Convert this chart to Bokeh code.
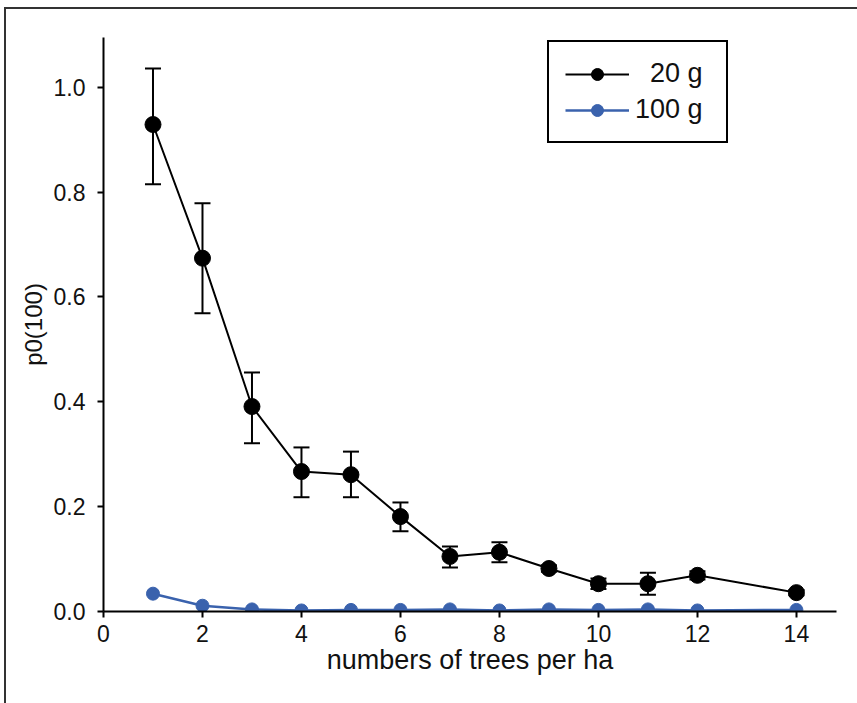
from bokeh.plotting import figure
from bokeh.models import Range1d, FixedTicker, Whisker, ColumnDataSource, Legend, LegendItem
from bokeh.embed import file_html
from bokeh.resources import INLINE

trees = [1, 2, 3, 4, 5, 6, 7, 8, 9, 10, 11, 12, 14]
p20 = [0.929, 0.674, 0.391, 0.267, 0.261, 0.181, 0.105, 0.113, 0.082, 0.053, 0.053, 0.069, 0.036]
p20_upper = [1.036, 0.779, 0.456, 0.313, 0.305, 0.208, 0.124, 0.132, 0.088, 0.063, 0.074, 0.077, 0.041]
p20_lower = [0.815, 0.569, 0.321, 0.218, 0.218, 0.153, 0.084, 0.094, 0.076, 0.043, 0.032, 0.061, 0.031]
p100 = [0.034, 0.011, 0.004, 0.002, 0.003, 0.003, 0.004, 0.002, 0.004, 0.003, 0.004, 0.002, 0.003]
x_ticks = [0, 2, 4, 6, 8, 10, 12, 14]
y_ticks = [0.0, 0.2, 0.4, 0.6, 0.8, 1.0]
labels = ["\u00a0\u00a020 g", "100 g"]

BLUE = "#3a62ad"
FONT = "Liberation Sans"

p = figure(frame_width=733, frame_height=574,
           min_border_left=97, min_border_top=28, min_border_right=21, min_border_bottom=92,
           x_range=Range1d(0, 14.81), y_range=Range1d(0, 1.095),
           output_backend="svg", toolbar_location=None)
p.styles = {"margin-left": "4px", "margin-top": "7px",
            "border-left": "2px solid #333", "border-top": "2px solid #333"}

p.grid.visible = False
p.outline_line_color = None
p.background_fill_color = "white"
p.border_fill_color = "white"

for ax in (p.xaxis[0], p.yaxis[0]):
    ax.axis_line_width = 2
    ax.axis_line_color = "black"
    ax.major_tick_line_width = 2
    ax.major_tick_line_color = "black"
    ax.major_tick_out = 6
    ax.major_tick_in = 0
    ax.minor_tick_line_color = None
    ax.major_label_text_font = FONT
    ax.major_label_text_font_size = "23px"
    ax.major_label_text_color = "#111"
    ax.axis_label_text_font = FONT
    ax.axis_label_text_font_style = "normal"
    ax.axis_label_text_color = "#111"

p.xaxis[0].axis_label_text_font_size = "27px"
p.yaxis[0].axis_label_text_font_size = "24px"
p.xaxis[0].ticker = FixedTicker(ticks=x_ticks)
p.yaxis[0].ticker = FixedTicker(ticks=y_ticks)
p.yaxis[0].major_label_overrides = {t: f"{t:.1f}" for t in y_ticks}
p.xaxis[0].axis_label = "numbers of trees per ha"
p.yaxis[0].axis_label = "p0(100)"
p.xaxis[0].major_label_standoff = 7
p.xaxis[0].axis_label_standoff = 0
p.yaxis[0].major_label_standoff = 12
p.yaxis[0].axis_label_standoff = 4

src = ColumnDataSource(dict(x=trees, y=p20, upper=p20_upper, lower=p20_lower))
w = Whisker(source=src, base="x", upper="upper", lower="lower",
            line_color="black", line_width=2)
for head in (w.upper_head, w.lower_head):
    head.size = 16
    head.line_width = 2
    head.line_color = "black"
p.add_layout(w)

l20 = p.line(trees, p20, line_color="black", line_width=2)
c20 = p.scatter(trees, p20, size=16, fill_color="black", line_color="black")
l100 = p.line(trees, p100, line_color=BLUE, line_width=2.5)
c100 = p.scatter(trees, p100, size=13, fill_color=BLUE, line_color=BLUE)

legend = Legend(items=[LegendItem(label=labels[0], renderers=[l20, c20]),
                       LegendItem(label=labels[1], renderers=[l100, c100])],
                location=(444, 468), orientation="vertical")
legend.border_line_color = "black"
legend.border_line_alpha = 1
legend.border_line_width = 2
legend.background_fill_color = "white"
legend.background_fill_alpha = 1
legend.label_text_font = FONT
legend.label_text_font_size = "27px"
legend.label_text_color = "#111"
legend.glyph_width = 64
legend.glyph_height = 30
legend.label_height = 30
legend.label_width = 75
legend.label_standoff = 6
legend.spacing = 5
legend.padding = 16
legend.margin = 0
p.add_layout(legend, "center")

open("out.html", "w").write(file_html(p, INLINE))
